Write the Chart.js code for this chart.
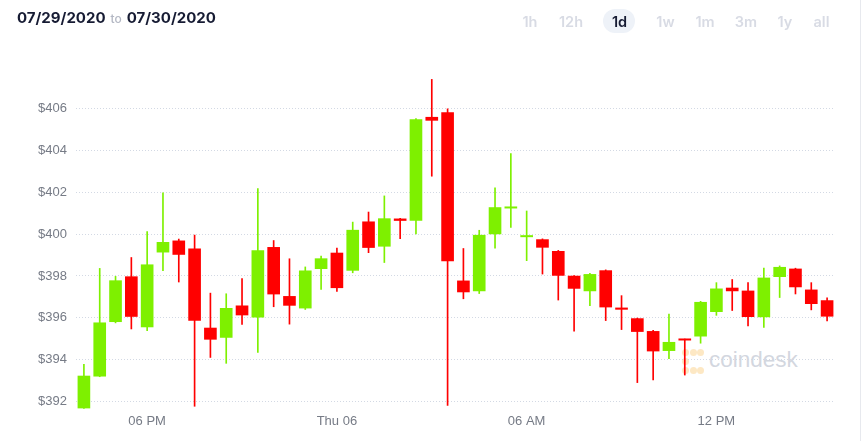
<!DOCTYPE html>
<html>
<head>
<meta charset="utf-8">
<script src="https://cdn.jsdelivr.net/npm/chart.js@4"></script>
<style>
  html, body { margin: 0; padding: 0; background: #ffffff; }
  #wrap { position: relative; width: 861px; height: 441px; overflow: hidden; background: #fff; }
  #chart { position: absolute; left: 0; top: 0; z-index: 2; }
  .hdr { position: absolute; z-index: 3; font-family: Inter, "Noto Sans", sans-serif; white-space: nowrap; }
  #dates { left: 17px; top: 8px; font-size: 15px; font-weight: 700; color: #161b33; line-height: 20px; }
  #dates .to { font-size: 12px; font-weight: 500; color: #b3b7c3; margin: 0 5px; }
  .btn { position: absolute; top: 12px; transform: translateX(-50%); font-size: 14.5px; font-weight: 600; color: #d8dbe4; line-height: 20px; z-index: 3; font-family: Inter, "Noto Sans", sans-serif; }
  .btn.active { color: #161b33; }
  #pill { position: absolute; left: 603px; top: 9px; width: 32px; height: 24px; border-radius: 12px; background: #eef2f8; z-index: 1; }
  #rborder { position: absolute; left: 860px; top: 0; width: 1px; height: 441px; background: #e7e9ee; z-index: 3; }
  #wm { position: absolute; left: 0; top: 0; z-index: 1; }
  #wm .dot { position: absolute; width: 7px; height: 7px; border-radius: 50%; background: #fde8c4; }
  #wm .txt { position: absolute; left: 709px; top: 349px; line-height: 1; font-family: "Liberation Sans", Arial, sans-serif; font-size: 22.5px; color: #d3d7df; }
</style>
</head>
<body>
<div id="wrap">
  <div id="dates" class="hdr">07/29/2020<span class="to">to</span>07/30/2020</div>
  <div id="pill"></div>
  <div class="btn" style="left:530px">1h</div>
  <div class="btn" style="left:571px">12h</div>
  <div class="btn active" style="left:619.5px">1d</div>
  <div class="btn" style="left:665.5px">1w</div>
  <div class="btn" style="left:705px">1m</div>
  <div class="btn" style="left:746px">3m</div>
  <div class="btn" style="left:785px">1y</div>
  <div class="btn" style="left:821.5px">all</div>
  <div id="rborder"></div>
  <div id="wm">
    <div class="dot" style="left:681.5px;top:348.5px"></div>
    <div class="dot" style="left:689.5px;top:348.5px"></div>
    <div class="dot" style="left:696.5px;top:348.5px"></div>
    <div class="dot" style="left:681.5px;top:357.5px"></div>
    <div class="dot" style="left:681.5px;top:366.5px"></div>
    <div class="dot" style="left:689.5px;top:366.5px"></div>
    <div class="dot" style="left:696.5px;top:366.5px"></div>
    <div class="txt">coindesk</div>
  </div>
  <canvas id="chart" width="861" height="441"></canvas>
</div>
<script>
const times = ['16:00','16:30','17:00','17:30','18:00','18:30','19:00','19:30','20:00','20:30',
  '21:00','21:30','22:00','22:30','23:00','23:30','00:00','00:30','01:00','01:30',
  '02:00','02:30','03:00','03:30','04:00','04:30','05:00','05:30','06:00','06:30',
  '07:00','07:30','08:00','08:30','09:00','09:30','10:00','10:30','11:00','11:30',
  '12:00','12:30','13:00','13:30','14:00','14:30','15:00','15:30'];

const openPrices = [391.68, 393.20, 395.80, 397.98, 395.55, 399.12, 399.69, 399.31, 395.53, 395.05,
  396.59, 396.02, 399.38, 397.04, 396.45, 398.33, 399.11, 398.25, 400.60, 399.40,
  400.74, 400.64, 405.59, 405.81, 397.78, 397.27, 399.99, 401.22, 399.85, 399.75,
  399.19, 398.01, 397.27, 398.27, 396.49, 395.98, 395.37, 394.42, 394.97, 395.11,
  396.28, 397.44, 397.30, 396.03, 397.95, 398.35, 397.35, 396.84];
const closePrices = [393.24, 395.78, 397.79, 396.05, 398.55, 399.62, 399.01, 395.86, 394.96, 396.47,
  396.12, 399.23, 397.12, 396.58, 398.26, 398.84, 397.42, 400.20, 399.34, 400.75,
  400.63, 405.48, 405.41, 398.70, 397.22, 399.96, 401.28, 401.25, 399.88, 399.35,
  398.01, 397.39, 398.09, 396.50, 396.39, 395.33, 394.40, 394.85, 394.92, 396.76,
  397.40, 397.27, 396.04, 397.92, 398.43, 397.46, 396.66, 396.06];
const highPrices = [393.78, 398.36, 397.98, 398.88, 400.12, 401.97, 399.76, 399.95, 397.18, 397.15,
  397.87, 402.17, 399.69, 398.82, 398.43, 398.95, 399.33, 400.57, 401.05, 401.82,
  400.75, 405.51, 407.38, 405.97, 399.31, 400.18, 402.20, 403.84, 401.10, 399.77,
  399.22, 398.02, 398.12, 398.29, 397.06, 395.99, 395.40, 396.18, 394.99, 396.79,
  397.68, 397.83, 397.68, 398.37, 398.48, 398.37, 397.68, 396.95];
const lowPrices = [391.68, 393.19, 395.76, 395.47, 395.39, 398.25, 397.71, 391.78, 394.11, 393.83,
  395.69, 394.35, 396.53, 395.70, 396.40, 397.36, 397.26, 398.15, 399.11, 398.64,
  399.78, 400.01, 402.76, 391.82, 396.91, 397.16, 399.32, 400.32, 398.73, 398.09,
  396.85, 395.36, 396.58, 395.87, 395.44, 392.91, 393.04, 394.05, 393.27, 394.79,
  396.12, 396.35, 395.62, 395.54, 396.97, 397.14, 396.38, 395.85];

const yTickValues = [392, 394, 396, 398, 400, 402, 404, 406];
const xTickTimes = ['18:00', '00:00', '06:00', '12:00'];
const xTickTexts = ['06 PM', 'Thu 06', '06 AM', '12 PM'];

const UP = 'rgb(126,240,0)';
const DOWN = 'rgb(255,0,0)';
const colors = openPrices.map((o, i) => closePrices[i] >= o ? UP : DOWN);

const bodies = openPrices.map((o, i) => [o, closePrices[i]]);
const wicks = lowPrices.map((l, i) => [l, highPrices[i]]);

new Chart(document.getElementById('chart'), {
  type: 'bar',
  data: {
    labels: times,
    datasets: [
      {
        label: 'body',
        data: bodies,
        backgroundColor: colors,
        borderWidth: 0,
        grouped: false,
        barPercentage: 0.8,
        categoryPercentage: 1.0,
        minBarLength: 2,
        order: 0
      },
      {
        label: 'wick',
        data: wicks,
        backgroundColor: colors,
        borderWidth: 0,
        grouped: false,
        barThickness: 1,
        order: 1
      }
    ]
  },
  options: {
    responsive: false,
    animation: false,
    devicePixelRatio: 1,
    layout: { padding: { top: 75, right: 26, left: 0, bottom: 0 } },
    plugins: { legend: { display: false }, tooltip: { enabled: false } },
    scales: {
      x: {
        type: 'category',
        offset: true,
        grid: { display: false, drawTicks: false },
        border: { display: false },
        afterFit: (s) => { s.height = 32; },
        ticks: {
          autoSkip: false,
          maxRotation: 0,
          padding: 5,
          color: '#767b86',
          font: { family: '"Liberation Sans", Arial, sans-serif', size: 13 },
          callback: function (value) {
            const k = xTickTimes.indexOf(this.getLabelForValue(value));
            return k >= 0 ? xTickTexts[k] : null;
          }
        }
      },
      y: {
        type: 'linear',
        min: 391.65,
        max: 407.59,
        afterFit: (s) => { s.width = 76; },
        afterBuildTicks: (s) => { s.ticks = yTickValues.map(v => ({ value: v })); },
        grid: { color: '#d3d9e4', lineWidth: 1, drawTicks: false },
        border: { display: false, dash: [1, 2] },
        ticks: {
          padding: 9,
          color: '#767b86',
          font: { family: '"Liberation Sans", Arial, sans-serif', size: 13 },
          callback: (v) => '$' + v
        }
      }
    }
  }
});
</script>
</body>
</html>
